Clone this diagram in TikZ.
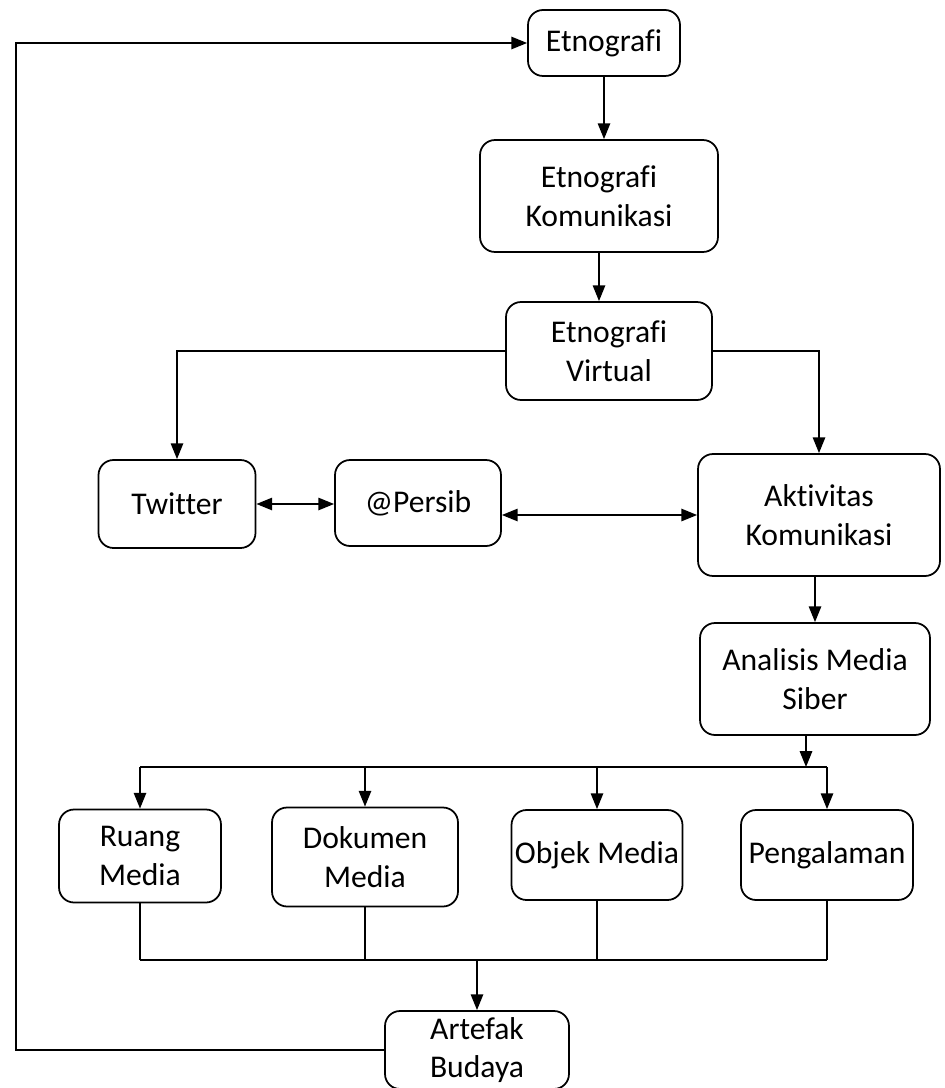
\documentclass[tikz,border=0pt]{standalone}
\usepackage{fontspec}
\setmainfont{Carlito}[Ligatures=NoCommon]
\usetikzlibrary{arrows.meta}
\tikzset{
  box/.style={draw, line width=1pt, rounded corners=0.3cm, align=center,
    inner sep=0pt, font=\fontsize{18}{22}\selectfont},
  link/.style={line width=1.1pt},
  arr/.style={link, -{Triangle[length=9pt,width=7pt]}},
  arrs/.style={link, {Triangle[length=9pt,width=7pt]}-{Triangle[length=9pt,width=7pt]}},
  wire/.style={line width=0.6pt}
}
\begin{document}
\begin{tikzpicture}[x=0.02cm, y=-0.02cm]
  \useasboundingbox (0,0) rectangle (944,1088);
  \node[box, minimum width=3.04cm, minimum height=1.32cm] (et) at (604,43) {Etnografi};
  \node[box, minimum width=4.76cm, minimum height=2.24cm] (ek) at (599,196) {Etnografi\\Komunikasi};
  \node[box, minimum width=4.12cm, minimum height=1.96cm] (ev) at (609,351) {Etnografi\\Virtual};
  \node[box, minimum width=3.14cm, minimum height=1.76cm] (tw) at (177,504) {Twitter};
  \node[box, minimum width=3.32cm, minimum height=1.72cm] (ps) at (418,503) {@Persib};
  \node[box, minimum width=4.84cm, minimum height=2.44cm] (ak) at (819,515) {Aktivitas\\Komunikasi};
  \node[box, minimum width=4.60cm, minimum height=2.24cm] (an) at (815,679) {Analisis Media\\Siber};
  \node[box, minimum width=3.24cm, minimum height=1.86cm] (rm) at (140,856) {Ruang\\Media};
  \node[box, minimum width=3.72cm, minimum height=1.98cm] (dm) at (365,857) {Dokumen\\Media};
  \node[box, minimum width=3.42cm, minimum height=1.80cm] (om) at (597,855) {Objek Media};
  \node[box, minimum width=3.44cm, minimum height=1.80cm] (pg) at (827,855) {Pengalaman};
  \node[box, minimum width=3.68cm, minimum height=1.56cm] (ab) at (477,1050) {Artefak\\Budaya};
  \coordinate (lp) at (16,1050);
  \coordinate (bus) at (806,767);
  \coordinate (jn) at (480,960);
  % main chain
  \draw[arr] (et.south) -- (et.south |- ek.north);
  \draw[arr] (ek.south) -- (ek.south |- ev.north);
  \draw[arr] (ev.west) -| (tw.north);
  \draw[arr] (ev.east) -| (ak.north);
  \draw[arrs] (tw.east) -- (tw.east -| ps.west);
  \draw[arrs] (ps.east |- ak.west) -- (ak.west);
  \draw[arr] (an.north |- ak.south) -- (an.north);
  % branches
  \draw[arr] (bus |- an.south) -- (bus);
  \draw[link] (rm.north |- bus) -- (pg.north |- bus);
  \foreach \n in {rm,dm,om,pg}
    \draw[arr] (\n.north |- bus) -- (\n.north);
  \foreach \n in {rm,dm,om,pg}
    \draw[wire] (\n.south) -- (\n.south |- jn);
  \draw[link] (rm.south |- jn) -- (pg.south |- jn);
  \draw[arr] (ab.north |- jn) -- (ab.north);
  % loop back
  \draw[arr] (ab.west) -- (lp) |- (et.west);
\end{tikzpicture}
\end{document}
